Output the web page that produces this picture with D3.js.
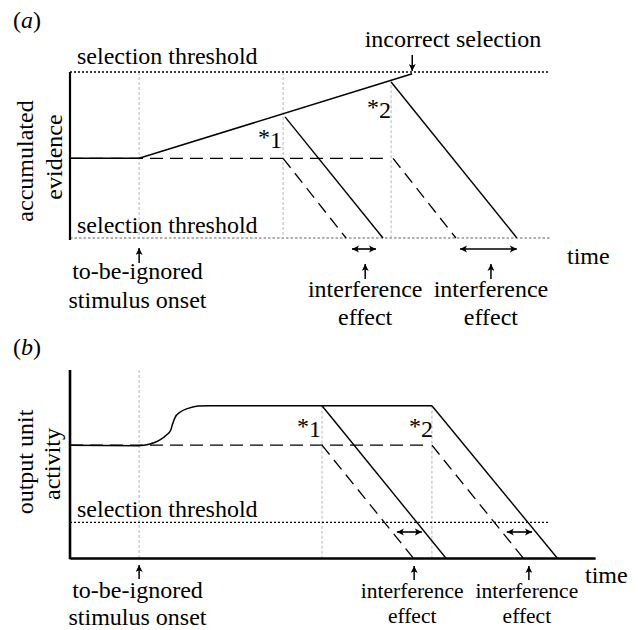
<!DOCTYPE html>
<html><head><meta charset="utf-8">
<script src="https://cdn.jsdelivr.net/npm/d3@7"></script>
<style>
body{margin:0;background:#fff}
svg text{font-family:'Liberation Serif','DejaVu Serif','Times New Roman',Times,serif;fill:#000}
</style>
</head><body>
<svg id="c" width="638" height="630" font-family="Liberation Serif, DejaVu Serif, serif"></svg>
<script>
// ---------- shared ----------
const onsetTime = 14.4;
const timeDomain = [0, 100];
const FONT = "'Liberation Serif','DejaVu Serif',serif";

// ---------- panel (a): accumulated evidence ----------
const aProbeTimes = [44.4, 66.9];              // *1, *2
const aProbeLabels = ["1", "2"];
const aBaselineLevel = 4.8;
const aUpperThreshold = 10;
const aLowerThreshold = 0;
const aEvidenceSolid = [[0, 4.8], [14.4, 4.8], [71.3, 9.9]];
const aBaselineDashed = [[0, 4.8], [65.2, 4.8]];
const aDropSolid = [[[44.8, 7.3], [65.2, 0]], [[66.9, 9.4], [93.1, 0]]];
const aDropDashed = [[[44.4, 4.8], [57.5, 0]], [[67.3, 4.8], [80.4, 0]]];
const aEffectSpans = [[58.75, 63.75], [81.25, 93.1]];
const aEffectArrowTimes = [61.5, 87.7];
const aIncorrectTime = 71.3;
const aThresholdEndTime = 100;
const aProbeLineTops = [10, 9.5];

// ---------- panel (b): output unit activity ----------
const bProbeTimes = [52.5, 75.4];
const bProbeLabels = ["1", "2"];
const bThreshold = 1.9;
const bAxisEndTime = 109.4;
const bThresholdEndTime = 99.8;
const bActivitySolid = [[0, 6], [14.2, 5.97], [16.7, 6.06], [18.75, 6.28], [20.1, 6.54], [21.0, 6.81],
  [21.3, 7.07], [21.9, 7.48], [22.9, 7.75], [24.6, 7.96], [26.7, 8.09], [29.2, 8.1], [75.4, 8.1]];
const bBaselineDashed = [[0, 6], [74.4, 6]];
const bDropSolid = [[[52.5, 8.1], [78.3, 0]], [[75.4, 8.1], [101.5, 0]]];
const bDropDashed = [[[52.5, 6], [71.5, 0]], [[75.4, 6], [94.4, 0]]];
const bEffectSpans = [[68.1, 73.3], [91.0, 96.25]];
const bEffectArrowTimes = [71.7, 95.6];
const bProbeLineTop = 8.1;

const svg = d3.select("#c");
const defs = svg.append("defs");
function marker(id, w, h) {
  defs.append("marker").attr("id", id).attr("viewBox", "0 0 10 10")
    .attr("refX", 10).attr("refY", 5).attr("markerWidth", w).attr("markerHeight", h)
    .attr("markerUnits", "userSpaceOnUse").attr("orient", "auto-start-reverse")
    .append("path").attr("d", "M0,0L10,5L0,10L2.5,5Z").attr("fill", "#000");
}
marker("ah", 8, 7);
marker("dh", 7, 8);

function arrowUp(g, x, yTail, yHead) {
  g.append("line").attr("x1", x).attr("x2", x).attr("y1", yTail).attr("y2", yHead)
    .attr("stroke", "#000").attr("stroke-width", 1.5).attr("marker-end", "url(#ah)");
}
function doubleArrow(g, x1, x2, y) {
  g.append("line").attr("x1", x1).attr("x2", x2).attr("y1", y).attr("y2", y)
    .attr("stroke", "#000").attr("stroke-width", 1.6)
    .attr("marker-start", "url(#dh)").attr("marker-end", "url(#dh)");
}
function txt(g, size) {
  return g.append("text").attr("font-family", FONT).style("font-family", FONT)
    .attr("font-size", size || 24).attr("fill", "#000");
}
function label(g, x, y, str, anchor, size) {
  return txt(g, size).attr("x", x).attr("y", y).attr("text-anchor", anchor || "start").text(str);
}
function star(g, xEnd, y, num) {
  const t = txt(g, 24).attr("x", xEnd).attr("y", y).attr("text-anchor", "end");
  t.append("tspan").attr("dy", -3).text("*");
  t.append("tspan").attr("dy", 3).text(num);
}
function panelTag(g, x, y, letter) {
  const t = txt(g, 24).attr("x", x).attr("y", y);
  t.append("tspan").text("(");
  t.append("tspan").attr("font-style", "italic").text(letter);
  t.append("tspan").text(")");
}

// ================= Panel (a) =================
const xA = d3.scaleLinear().domain(timeDomain).range([70, 550]);
const yA = d3.scaleLinear().domain([aLowerThreshold, aUpperThreshold]).range([238, 72]);
const lineA = d3.line().x(d => xA(d[0])).y(d => yA(d[1]));
const gA = svg.append("g");

panelTag(gA, 13, 28, "a");

[[onsetTime, aUpperThreshold], [aProbeTimes[0], aProbeLineTops[0]], [aProbeTimes[1], aProbeLineTops[1]]].forEach(d => {
  gA.append("line").attr("x1", xA(d[0])).attr("x2", xA(d[0])).attr("y1", yA(d[1])).attr("y2", yA(aLowerThreshold))
    .attr("stroke", "#c4c4c4").attr("stroke-width", 1.2).attr("stroke-dasharray", "3,2");
});

gA.append("path").attr("d", lineA([[0, aUpperThreshold], [aThresholdEndTime, aUpperThreshold]]))
  .attr("stroke", "#000").attr("stroke-width", 1.3).attr("stroke-dasharray", "2,2").attr("fill", "none");
gA.append("path").attr("d", lineA([[0, aLowerThreshold], [aThresholdEndTime, aLowerThreshold]]))
  .attr("stroke", "#b0b0b0").attr("stroke-width", 2.2).attr("stroke-dasharray", "2.5,2").attr("fill", "none");

const axA = d3.axisLeft(yA).tickValues([]).tickSizeOuter(0);
gA.append("g").attr("transform", `translate(${xA(0)},0)`).call(axA)
  .call(g => g.select(".domain").attr("stroke-width", 2.2).attr("d", `M0,${yA(aUpperThreshold)}V${yA(aLowerThreshold) + 2}`));

gA.append("path").attr("d", lineA(aBaselineDashed)).attr("stroke", "#000").attr("stroke-width", 1.3)
  .attr("stroke-dasharray", "13,7").attr("fill", "none");
aDropDashed.forEach(seg => gA.append("path").attr("d", lineA(seg)).attr("stroke", "#000")
  .attr("stroke-width", 1.3).attr("stroke-dasharray", "12,7").attr("fill", "none"));

gA.append("path").attr("d", lineA(aEvidenceSolid)).attr("stroke", "#000").attr("stroke-width", 1.5).attr("fill", "none");
aDropSolid.forEach(seg => gA.append("path").attr("d", lineA(seg)).attr("stroke", "#000")
  .attr("stroke-width", 1.4).attr("fill", "none"));

label(gA, 77, 64, "selection threshold");
label(gA, 77, 233, "selection threshold");
label(gA, 453, 47, "incorrect selection", "middle");
arrowUp(gA, xA(aIncorrectTime), 55, yA(aUpperThreshold) - 1);
star(gA, xA(aProbeTimes[0]) - 1, 148, aProbeLabels[0]);
star(gA, xA(aProbeTimes[1]), 118, aProbeLabels[1]);

arrowUp(gA, xA(onsetTime), 263, 248);
label(gA, 137.5, 279, "to-be-ignored", "middle");
label(gA, 137.5, 308, "stimulus onset", "middle");

aEffectSpans.forEach(s => doubleArrow(gA, xA(s[0]), xA(s[1]), 249));
aEffectArrowTimes.forEach(t => {
  arrowUp(gA, xA(t), 279, 264);
  label(gA, xA(t), 297, "interference", "middle");
  label(gA, xA(t), 325, "effect", "middle");
});
label(gA, 567, 264, "time");

txt(gA, 24).attr("transform", "translate(33,161) rotate(-90)").attr("text-anchor", "middle").text("accumulated");
txt(gA, 24).attr("transform", "translate(62,157) rotate(-90)").attr("text-anchor", "middle").text("evidence");

// ================= Panel (b) =================
const xB = d3.scaleLinear().domain(timeDomain).range([70, 550]);
const yB = d3.scaleLinear().domain([0, 10]).range([558, 370]);
const lineB = d3.line().x(d => xB(d[0])).y(d => yB(d[1]));
const curveB = d3.line().x(d => xB(d[0])).y(d => yB(d[1])).curve(d3.curveMonotoneX);
const gB = svg.append("g");

panelTag(gB, 13, 355, "b");

[[onsetTime, 10], [bProbeTimes[0], bProbeLineTop], [bProbeTimes[1], bProbeLineTop]].forEach(d => {
  gB.append("line").attr("x1", xB(d[0])).attr("x2", xB(d[0])).attr("y1", yB(d[1])).attr("y2", yB(0))
    .attr("stroke", "#c4c4c4").attr("stroke-width", 1.2).attr("stroke-dasharray", "3,2");
});

gB.append("path").attr("d", lineB([[0, bThreshold], [bThresholdEndTime, bThreshold]]))
  .attr("stroke", "#000").attr("stroke-width", 1.3).attr("stroke-dasharray", "2,2").attr("fill", "none");

gB.append("path").attr("d", lineB(bBaselineDashed)).attr("stroke", "#000").attr("stroke-width", 1.3)
  .attr("stroke-dasharray", "13,7").attr("fill", "none");
bDropDashed.forEach(seg => gB.append("path").attr("d", lineB(seg)).attr("stroke", "#000")
  .attr("stroke-width", 1.3).attr("stroke-dasharray", "12,7").attr("fill", "none"));

gB.append("path").attr("d", curveB(bActivitySolid)).attr("stroke", "#000").attr("stroke-width", 1.5).attr("fill", "none");
bDropSolid.forEach(seg => gB.append("path").attr("d", lineB(seg)).attr("stroke", "#000")
  .attr("stroke-width", 1.4).attr("fill", "none"));

const xBAxis = d3.scaleLinear().domain([0, bAxisEndTime]).range([xB(0), xB(bAxisEndTime)]);
gB.append("g").attr("transform", `translate(0,${yB(0)})`)
  .call(d3.axisBottom(xBAxis).tickValues([]).tickSizeOuter(0))
  .call(g => g.select(".domain").attr("stroke-width", 2.6));
gB.append("g").attr("transform", `translate(${xB(0)},0)`)
  .call(d3.axisLeft(yB).tickValues([]).tickSizeOuter(0))
  .call(g => g.select(".domain").attr("stroke-width", 2.6).attr("d", `M0,${yB(10)}V${yB(0) + 1.3}`));

label(gB, 77, 517, "selection threshold");
star(gB, xB(bProbeTimes[0]) - 1, 437, bProbeLabels[0]);
star(gB, xB(bProbeTimes[1]) + 1, 437, bProbeLabels[1]);

arrowUp(gB, xB(onsetTime), 579, 565);
label(gB, 137.5, 598, "to-be-ignored", "middle");
label(gB, 137.5, 625, "stimulus onset", "middle");

bEffectSpans.forEach(s => doubleArrow(gB, xB(s[0]), xB(s[1]), 532));
bEffectArrowTimes.forEach(t => {
  arrowUp(gB, xB(t), 580, 566);
  label(gB, xB(t) - 2, 598, "interference", "middle", 21.5);
  label(gB, xB(t) - 2, 623, "effect", "middle", 21.5);
});
label(gB, 585, 583, "time");

txt(gB, 24).attr("transform", "translate(33,462) rotate(-90)").attr("text-anchor", "middle").text("output unit");
txt(gB, 24).attr("transform", "translate(60,464) rotate(-90)").attr("text-anchor", "middle").text("activity");
</script>
</body></html>
